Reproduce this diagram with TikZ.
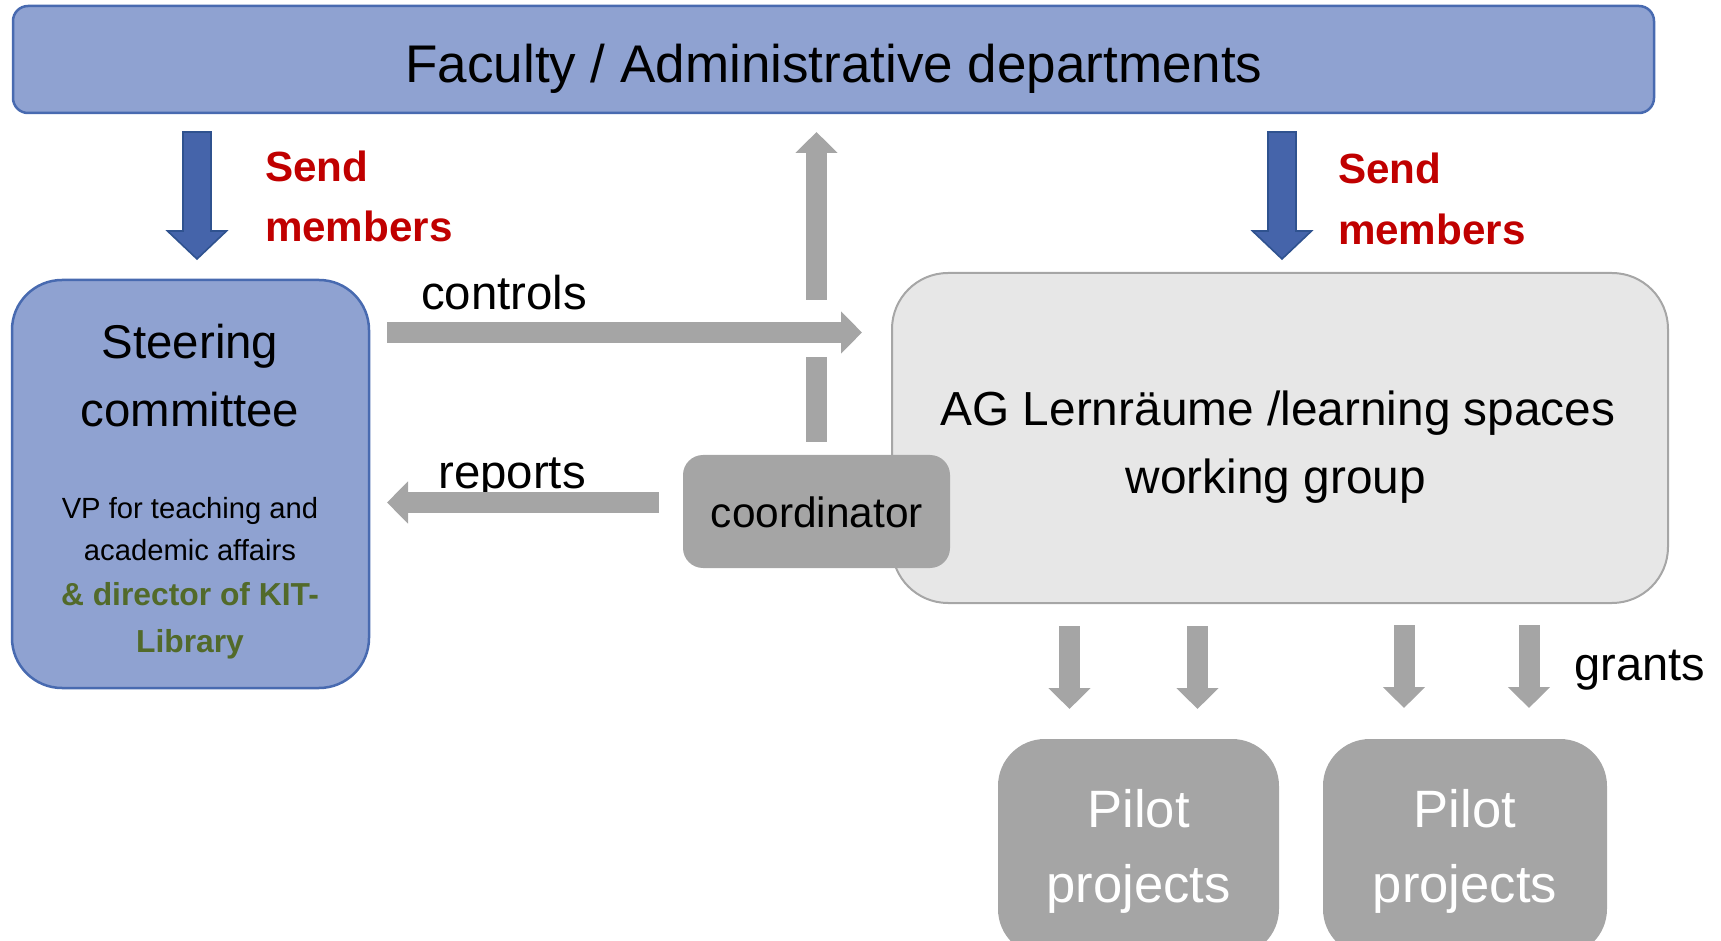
\documentclass[tikz,border=0pt]{standalone}
\usepackage{fontspec}
\setmainfont{Liberation Sans}
\usetikzlibrary{arrows.meta,calc}
\definecolor{topfill}{RGB}{143,162,209}
\definecolor{topline}{RGB}{72,106,176}
\definecolor{bluefill}{RGB}{69,100,170}
\definecolor{blueline}{RGB}{47,82,143}
\definecolor{grayarr}{RGB}{165,165,165}
\definecolor{agfill}{RGB}{231,231,231}
\definecolor{agline}{RGB}{166,166,166}
\definecolor{sendred}{RGB}{192,0,0}
\definecolor{libgreen}{RGB}{82,106,42}
\tikzset{
  box/.style={rectangle, inner sep=0pt, outer sep=0pt},
  txt/.style={inner sep=0pt, outer sep=0pt, anchor=base},
  grayarrow/.style={draw=grayarr, line width=10.5pt, -{Triangle[width=20.5pt,length=10.5pt]}},
  bluearr/.style={fill=bluefill, draw=blueline, line width=0.8pt, line join=miter},
  sendtxt/.style={txt, anchor=base west, text=sendred, font=\fontsize{21.1}{24}\bfseries\selectfont},
}
\begin{document}
\begin{tikzpicture}[x=0.5pt,y=-0.5pt]
\useasboundingbox (0,0) rectangle (1721,941);
\clip (0,0) rectangle (1721,941);

% boxes
\node[box, fill=topfill, draw=topline, line width=1.25pt, rounded corners=7.5pt,
      minimum width=820.5pt, minimum height=53.5pt] (topbar) at (833.5,59.5) {};
\node[box, fill=topfill, draw=topline, line width=1.25pt, rounded corners=25pt,
      minimum width=178.5pt, minimum height=204pt] (steer) at (190.5,484) {};
\node[box, fill=agfill, draw=agline, line width=1pt, rounded corners=28pt,
      minimum width=388pt, minimum height=165pt] (ag) at (1280,438) {};
\node[box, fill=grayarr, rounded corners=10pt,
      minimum width=133.5pt, minimum height=56.5pt] (coord) at (816.5,511.5) {};
\node[box, fill=grayarr, rounded corners=23.5pt,
      minimum width=140.5pt, minimum height=108.5pt] (p1) at (1138.5,847.5) {};
\node[box, fill=grayarr, rounded corners=23.5pt,
      minimum width=142pt, minimum height=108.5pt] (p2) at (1465,847.5) {};

% texts
\node[txt, font=\fontsize{26.5}{30}\selectfont] (toptxt) at (834,83) {Faculty / Administrative departments};
\node[txt, font=\fontsize{23.7}{28}\selectfont] (st1) at (190,359) {Steering};
\node[txt, font=\fontsize{23.7}{28}\selectfont] (st2) at (190,427) {committee};
\node[txt, font=\fontsize{14.6}{17}\selectfont] (st3) at (190,518) {VP for teaching and};
\node[txt, font=\fontsize{14.6}{17}\selectfont] (st4) at (190,560) {academic affairs};
\node[txt, text=libgreen, font=\fontsize{15.9}{19}\bfseries\selectfont] (st5) at (190,605) {\& director of KIT-};
\node[txt, text=libgreen, font=\fontsize{15.9}{19}\bfseries\selectfont] (st6) at (190,652) {Library};
\node[sendtxt] (sl1) at (265,182) {Send};
\node[sendtxt] (sl2) at (265,242) {members};
\node[sendtxt] (sr1) at (1338,184) {Send};
\node[sendtxt] (sr2) at (1338,245) {members};
\node[txt, font=\fontsize{23.7}{28}\selectfont] (ctrl) at (504,310) {controls};
\node[txt, font=\fontsize{23.7}{28}\selectfont] (rep) at (512,488) {reports};
\node[txt, font=\fontsize{23.9}{28}\selectfont] (ag1) at (1278,426) {AG Lernräume /learning spaces};
\node[txt, font=\fontsize{23.9}{28}\selectfont] (ag2) at (1276,494) {working group};
\node[txt, font=\fontsize{21.2}{25}\selectfont] (coordtxt) at (817,528) {coordinator};
\node[txt, font=\fontsize{23.5}{28}\selectfont] (gr) at (1640,680) {grants};
\node[txt, text=white, font=\fontsize{26.3}{30}\selectfont] (p1a) at (1138.5,827) {Pilot};
\node[txt, text=white, font=\fontsize{26.3}{30}\selectfont] (p1b) at (1138.5,902) {projects};
\node[txt, text=white, font=\fontsize{26.3}{30}\selectfont] (p2a) at (1465,827) {Pilot};
\node[txt, text=white, font=\fontsize{26.3}{30}\selectfont] (p2b) at (1465,902) {projects};

% blue "send members" arrows
\coordinate (b1top) at (197,132);
\coordinate (b2top) at (1282,132);
\draw[bluearr] (b1top) ++(-14,0) -- ++(28,0) -- ++(0,99) -- ++(15.5,0) -- ++(-29.5,28) -- ++(-29.5,-28) -- ++(15.5,0) -- cycle;
\draw[bluearr] (b2top) ++(-14,0) -- ++(28,0) -- ++(0,99) -- ++(15.5,0) -- ++(-29.5,28) -- ++(-29.5,-28) -- ++(15.5,0) -- cycle;

% coordinator -> faculty (with gap)
\draw[grayarrow, shorten <=6.5pt, shorten >=9.5pt] (coord.north) -- (coord.north |- topbar.south);
\fill[white] (798,300) rectangle (835,357);

% controls and reports
\coordinate (yc) at (0,332.5);
\coordinate (yr) at (0,502.5);
\draw[grayarrow, shorten <=9pt, shorten >=15pt] (steer.east |- yc) -- (ag.west |- yc);
\draw[grayarrow, shorten <=12pt, shorten >=9pt] (coord.west |- yr) -- (steer.east |- yr);

% grants arrows
\coordinate (g1) at (1069.5,0);
\coordinate (g2) at (1197.5,0);
\coordinate (g3) at (1404,0);
\coordinate (g4) at (1529,0);
\draw[grayarrow, shorten <=11.5pt, shorten >=15pt] (ag.south -| g1) -- (p1.north -| g1);
\draw[grayarrow, shorten <=11.5pt, shorten >=15pt] (ag.south -| g2) -- (p1.north -| g2);
\draw[grayarrow, shorten <=11pt, shorten >=15.5pt] (ag.south -| g3) -- (p2.north -| g3);
\draw[grayarrow, shorten <=11pt, shorten >=15.5pt] (ag.south -| g4) -- (p2.north -| g4);
\end{tikzpicture}
\end{document}
